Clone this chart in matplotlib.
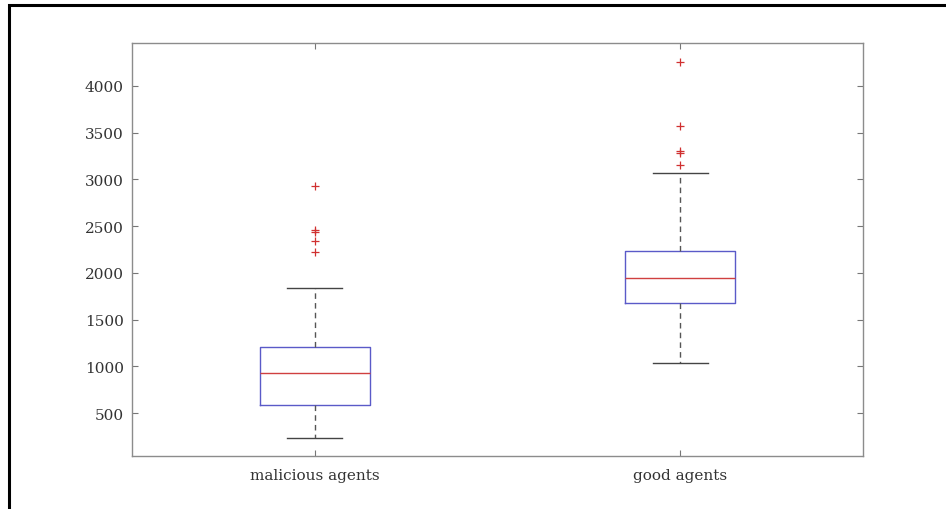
import matplotlib.pyplot as plt
from matplotlib.patches import Rectangle

# Values
categories = ['malicious agents', 'good agents']
whisker_low = [236, 1035]
q1 = [582, 1677]
median = [928, 1941]
q3 = [1210, 2234]
whisker_high = [1838, 3065]
outliers = [
    [2226, 2341, 2440, 2455, 2930],
    [3151, 3285, 3305, 3572, 4260],
]
y_ticks = [500, 1000, 1500, 2000, 2500, 3000, 3500, 4000]

plt.rcParams['font.family'] = ['DejaVu Serif']

fig = plt.figure(figsize=(9.46, 5.10), dpi=100)
fig.patch.set_facecolor('white')
ax = fig.add_axes([132 / 946, 1 - 457 / 510, 731 / 946, 413 / 510])

stats = []
for i, name in enumerate(categories):
    stats.append({
        'label': name,
        'whislo': whisker_low[i],
        'q1': q1[i],
        'med': median[i],
        'q3': q3[i],
        'whishi': whisker_high[i],
        'fliers': outliers[i],
    })

ax.bxp(stats, positions=[1, 2], widths=0.3, showfliers=True,
       boxprops=dict(color='#5a5ac8', linewidth=1.0),
       medianprops=dict(color='#d04040', linewidth=1.0),
       whiskerprops=dict(color='#555555', linewidth=1.0, linestyle=(0, (4, 3))),
       capprops=dict(color='#444444', linewidth=1.0),
       capwidths=0.15,
       flierprops=dict(marker='+', markeredgecolor='#d03030', markersize=6,
                       markeredgewidth=0.9, linestyle='none'))

ax.set_xlim(0.5, 2.5)
ax.set_ylim(40, 4460)
ax.set_yticks(y_ticks)
ax.set_xticks([1, 2])
ax.set_xticklabels(categories)

for s in ax.spines.values():
    s.set_color('#8c8c8c')
    s.set_linewidth(1.0)
ax.tick_params(direction='in', length=4, width=0.8, color='#777777',
               top=True, right=True, labelsize=11, labelcolor='#333333')
ax.tick_params(axis='y', pad=6)
ax.tick_params(axis='x', pad=9)

# black frame around the screenshot area
fig.patches.append(Rectangle((8.7 / 946, -0.1), 1.2, 1 - 5.7 / 510 + 0.1,
                             transform=fig.transFigure, fill=False,
                             edgecolor='black', linewidth=2.2))

fig.savefig('out.png', dpi=100)
